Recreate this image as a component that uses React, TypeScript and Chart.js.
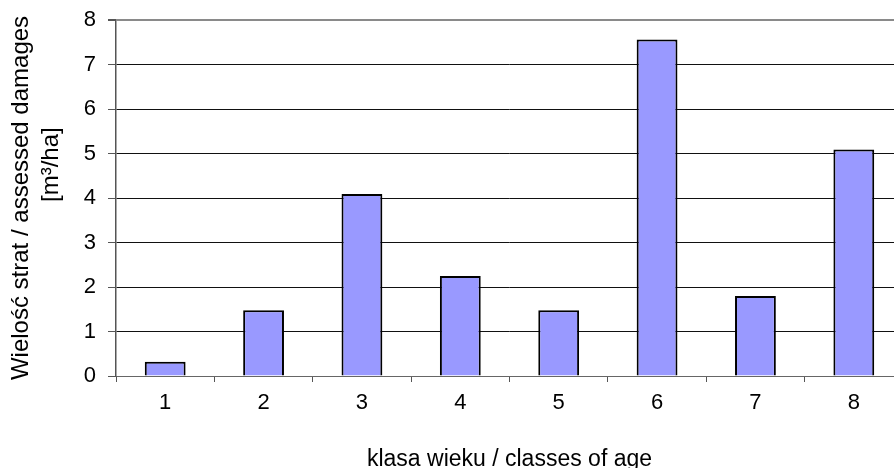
import React, { useEffect, useRef } from "react";
import { Chart, registerables } from "chart.js";

Chart.register(...registerables);

const categories = ["1", "2", "3", "4", "5", "6", "7", "8"];
const damages = [0.32, 1.48, 4.09, 2.25, 1.48, 7.56, 1.8, 5.09];
const yTitle = ["Wielość strat / assessed damages", "          [m³/ha]"];
const xTitle = "klasa wieku / classes of age";

const FONT = "'Liberation Sans', Arial, sans-serif";

export default function App() {
  const ref = useRef<HTMLCanvasElement | null>(null);

  useEffect(() => {
    const canvas = ref.current;
    if (!canvas) return;
    const chart = new Chart(canvas, {
      type: "bar",
      data: {
        labels: categories,
        datasets: [
          {
            data: damages,
            backgroundColor: "#9999FF",
            borderColor: "#000000",
            borderWidth: 2,
            barPercentage: 1,
            categoryPercentage: 0.415,
          },
        ],
      },
      options: {
        responsive: false,
        animation: false,
        events: [],
        layout: { padding: { left: 0, right: 7, top: 20, bottom: 0 } },
        plugins: {
          legend: { display: false },
          tooltip: { enabled: false },
        },
        scales: {
          x: {
            afterFit: (s: any) => {
              s.height = 92;
            },
            grid: {
              drawOnChartArea: false,
              drawTicks: true,
              tickLength: 6,
              color: "#555",
              lineWidth: 1,
            },
            border: { color: "#666", width: 1 },
            ticks: {
              color: "#000",
              padding: 8,
              font: { family: FONT, size: 22 },
            },
            title: {
              display: true,
              text: xTitle,
              color: "#000",
              font: { family: FONT, size: 23, lineHeight: 1 },
              padding: { top: 0, bottom: -3 },
            },
          },
          y: {
            min: 0,
            max: 8,
            afterFit: (s: any) => {
              s.width = 116;
              s.paddingTop = 0;
              s.paddingBottom = 0;
            },
            grid: {
              color: (ctx: any) => (ctx.tick && ctx.tick.value === 8 ? "#8a8a8a" : "#111"),
              lineWidth: (ctx: any) => (ctx.tick && ctx.tick.value === 8 ? 2 : 1),
              tickLength: 8,
              tickColor: "#555",
            },
            border: { color: "#555", width: 1.5 },
            ticks: {
              stepSize: 1,
              color: "#000",
              padding: 12,
              font: { family: FONT, size: 22 },
            },
            title: {
              display: true,
              text: yTitle,
              color: "#000",
              font: { family: FONT, size: 24, lineHeight: 1.25 },
              padding: { top: 6, bottom: 0 },
            },
          },
        },
      },
    });
    return () => chart.destroy();
  }, []);

  return (
    <div
      style={{
        position: "fixed",
        left: 0,
        top: 0,
        width: 894,
        height: 468,
        overflow: "hidden",
        background: "#fff",
      }}
    >
      <canvas ref={ref} width={910} height={468} style={{ display: "block" }} />
    </div>
  );
}
